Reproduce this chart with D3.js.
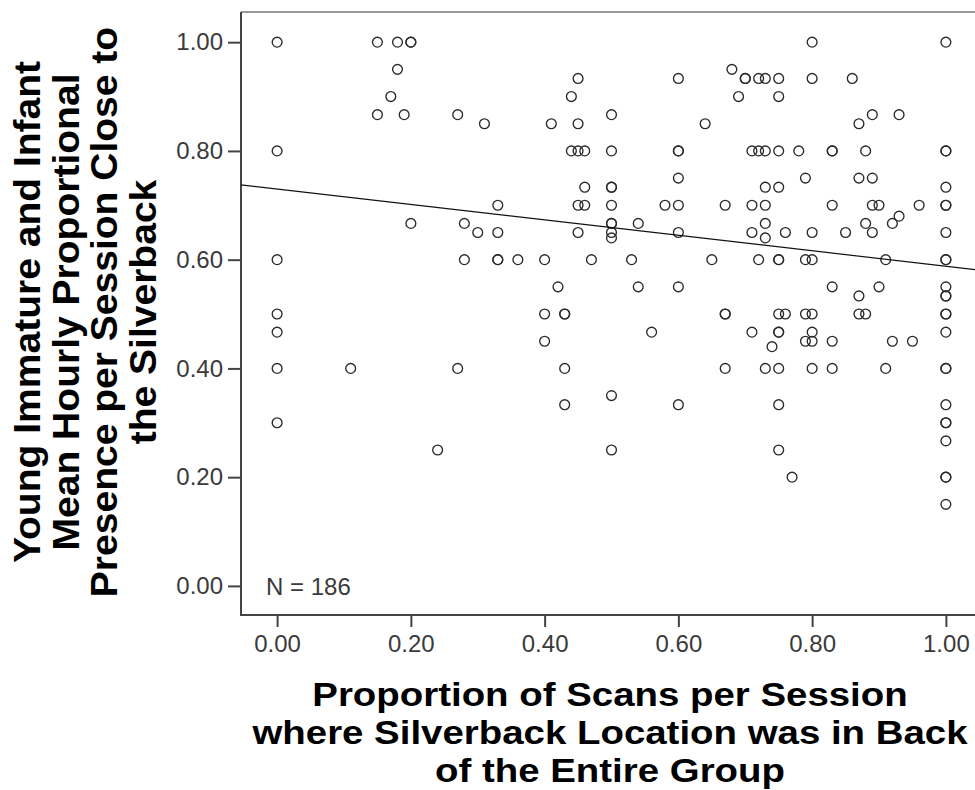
<!DOCTYPE html>
<html><head><meta charset="utf-8">
<script src="https://cdn.jsdelivr.net/npm/d3@7"></script>
<style>html,body{margin:0;padding:0;background:#fff;} svg{display:block;}</style>
</head><body>
<script>
// Y levels (Young Immature and Infant mean hourly proportional presence close to silverback)
const presenceLevels = [1.00, 0.95, 0.9333, 0.90, 0.8667, 0.85, 0.80, 0.75, 0.7333, 0.70, 0.68, 0.6667, 0.65, 0.64,
  0.60, 0.55, 0.5333, 0.50, 0.4667, 0.45, 0.44, 0.40, 0.35, 0.3333, 0.30, 0.2667, 0.25, 0.20, 0.15];
// X values (proportion of scans silverback in back of group) observed at each Y level
const backByLevel = [
  [0, 0.15, 0.18, 0.20, 0.20, 0.80, 1.00],
  [0.18, 0.68],
  [0.45, 0.60, 0.70, 0.70, 0.72, 0.73, 0.75, 0.80, 0.86],
  [0.17, 0.44, 0.69, 0.75],
  [0.15, 0.19, 0.27, 0.50, 0.89, 0.93],
  [0.31, 0.41, 0.45, 0.64, 0.87],
  [0, 0.44, 0.45, 0.46, 0.50, 0.60, 0.60, 0.71, 0.72, 0.73, 0.75, 0.78, 0.83, 0.83, 0.88, 1.00, 1.00],
  [0.60, 0.79, 0.87, 0.89],
  [0.46, 0.50, 0.50, 0.73, 0.75, 1.00],
  [0.33, 0.45, 0.46, 0.50, 0.58, 0.60, 0.67, 0.71, 0.73, 0.83, 0.89, 0.90, 0.96, 1.00, 1.00],
  [0.93],
  [0.20, 0.28, 0.50, 0.50, 0.54, 0.73, 0.88, 0.92],
  [0.30, 0.33, 0.45, 0.50, 0.60, 0.71, 0.76, 0.80, 0.85, 0.89, 1.00],
  [0.50, 0.73],
  [0, 0.28, 0.33, 0.33, 0.36, 0.40, 0.47, 0.53, 0.65, 0.72, 0.75, 0.75, 0.79, 0.80, 0.91, 1.00, 1.00],
  [0.42, 0.54, 0.60, 0.83, 0.90, 1.00],
  [0.87, 1.00, 1.00],
  [0, 0.40, 0.43, 0.43, 0.67, 0.67, 0.75, 0.76, 0.79, 0.80, 0.87, 0.88, 1.00, 1.00],
  [0, 0.56, 0.71, 0.75, 0.75, 0.80, 1.00],
  [0.40, 0.79, 0.80, 0.83, 0.92, 0.95],
  [0.74],
  [0, 0.11, 0.27, 0.43, 0.67, 0.73, 0.75, 0.80, 0.83, 0.91, 1.00, 1.00],
  [0.50],
  [0.43, 0.60, 0.75, 1.00],
  [0, 1.00, 1.00],
  [1.00],
  [0.24, 0.50, 0.75],
  [0.77, 1.00, 1.00],
  [1.00]
];
const xTicks = [0, 0.2, 0.4, 0.6, 0.8, 1.0];
const yTicks = [0, 0.2, 0.4, 0.6, 0.8, 1.0];
const fitIntercept = 0.730;
const fitSlope = -0.142;
const nLabel = "N = 186";
const xTitle = ["Proportion of Scans per Session", "where Silverback Location was in Back", "of the Entire Group"];
const yTitle = ["Young Immature and Infant", "Mean Hourly Proportional", "Presence per Session Close to", "the Silverback"];

(function () {
const points = presenceLevels.flatMap((yv, i) => backByLevel[i].map(xv => ({x: xv, y: yv})));

const W = 975, H = 790;
const pLeft = 241, pRight = 982, pTop = 12, pBottom = 615;
const svg = d3.select("body").append("svg").attr("width", W).attr("height", H);
svg.append("rect").attr("width", W).attr("height", H).attr("fill", "#fff");

const x = d3.scaleLinear().domain([-0.054, 1.054]).range([pLeft, pRight]);
const y = d3.scaleLinear().domain([-0.0535, 1.0555]).range([pBottom, pTop]);

svg.append("clipPath").attr("id", "clip").append("rect")
  .attr("x", pLeft).attr("y", pTop).attr("width", pRight - pLeft).attr("height", pBottom - pTop);

// frame
svg.append("line").attr("x1", pLeft).attr("x2", pRight).attr("y1", pTop).attr("y2", pTop)
  .attr("stroke", "#777").attr("stroke-width", 1.5);
svg.append("line").attr("x1", pLeft).attr("x2", pLeft).attr("y1", pTop).attr("y2", pBottom)
  .attr("stroke", "#444").attr("stroke-width", 2);
svg.append("line").attr("x1", pLeft - 1).attr("x2", pRight).attr("y1", pBottom).attr("y2", pBottom)
  .attr("stroke", "#444").attr("stroke-width", 2);

const fmt = d3.format(".2f");
const styleAxis = g => {
  g.select(".domain").remove();
  g.selectAll(".tick line").attr("stroke", "#444").attr("stroke-width", 2);
  g.selectAll(".tick text").attr("fill", "#3a3a3a").attr("font-size", 24)
    .attr("font-family", "'Liberation Sans', Arial, sans-serif");
};
svg.append("g").attr("transform", `translate(0,${pBottom})`)
  .call(d3.axisBottom(x).tickValues(xTicks).tickFormat(fmt).tickSize(12).tickPadding(8))
  .call(styleAxis);
svg.append("g").attr("transform", `translate(${pLeft},0)`)
  .call(d3.axisLeft(y).tickValues(yTicks).tickFormat(fmt).tickSize(13).tickPadding(5))
  .call(styleAxis);

// points
const plot = svg.append("g").attr("clip-path", "url(#clip)");
plot.selectAll("circle").data(points).join("circle")
  .attr("cx", d => x(d.x)).attr("cy", d => y(d.y)).attr("r", 4.9)
  .attr("fill", "none").attr("stroke", "#2a2a2a").attr("stroke-width", 1.35);

// fit line
const xd = x.domain();
plot.append("path")
  .datum(xd.map(v => ({x: v, y: fitIntercept + fitSlope * v})))
  .attr("d", d3.line().x(d => x(d.x)).y(d => y(d.y)))
  .attr("fill", "none").attr("stroke", "#111").attr("stroke-width", 1.2);

// N label
svg.append("text").attr("x", 266).attr("y", 595).text(nLabel)
  .attr("font-size", 24).attr("fill", "#3a3a3a")
  .attr("font-family", "'Liberation Sans', Arial, sans-serif");

// x title
const xt = svg.append("g").attr("font-family", "'Liberation Sans', Arial, sans-serif")
  .attr("font-weight", "bold").attr("font-size", 34).attr("fill", "#000");
xTitle.forEach((t, i) => {
  xt.append("text").attr("transform", `translate(610,${706 + i * 38}) scale(1.13,1)`)
    .attr("text-anchor", "middle").text(t);
});
// y title
const yt = svg.append("g").attr("font-family", "'Liberation Sans', Arial, sans-serif")
  .attr("font-weight", "bold").attr("font-size", 37).attr("fill", "#000");
yTitle.forEach((t, i) => {
  yt.append("text").attr("transform", `translate(${40 + i * 38.5},312) rotate(-90) scale(1.055,1)`)
    .attr("text-anchor", "middle").text(t);
});
})();
</script>
</body></html>
